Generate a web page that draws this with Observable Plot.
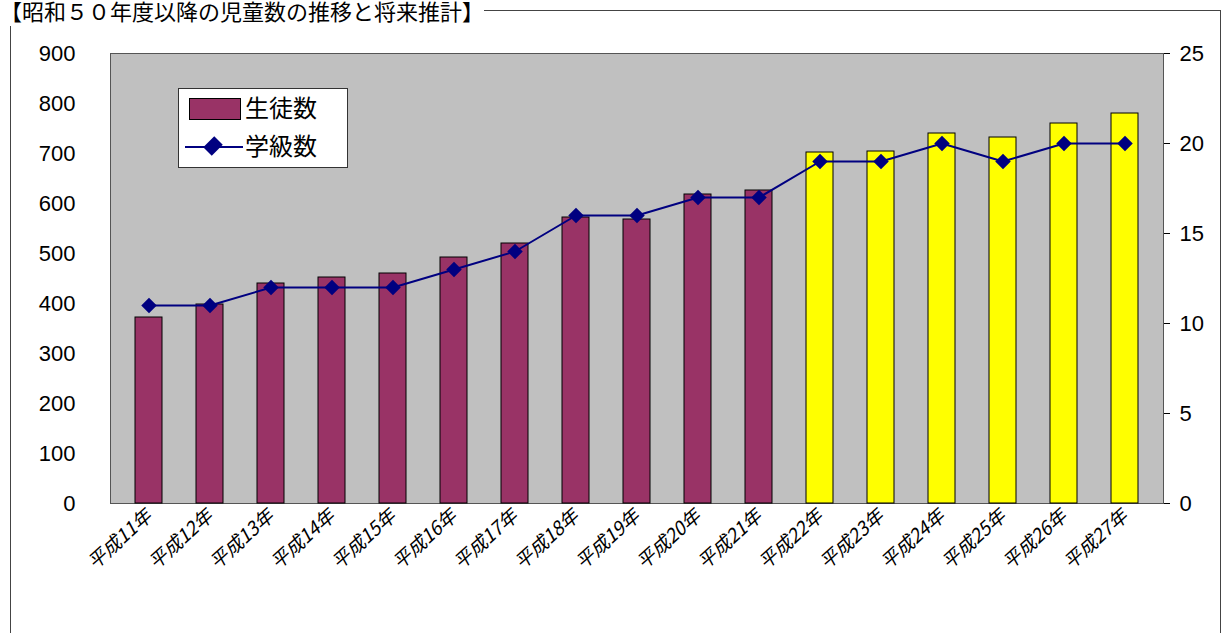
<!DOCTYPE html>
<html><head><meta charset="utf-8">
<script src="https://cdn.jsdelivr.net/npm/d3@7"></script>
<script src="https://cdn.jsdelivr.net/npm/@observablehq/plot@0.6"></script>
<style>
body{margin:0;font-family:"Noto Sans CJK JP",sans-serif;background:#fff}
#wrap{position:relative;width:1221px;height:633px;overflow:hidden}
#box{position:absolute;left:10px;top:10px;width:1209px;height:630px;border:1.5px solid #444}
#title{position:absolute;left:0;top:-6px;font-size:22px;white-space:nowrap;background:#fff}
#legend{position:absolute;left:178px;top:88px;width:168px;height:78px;background:#fff;border:1px solid #333;font-size:24px}
#chart{position:absolute;left:0;top:0}
</style></head><body>
<div id="wrap"><div id="box"></div><div id="chart"></div>
<div id="title">【昭和５０年度以降の児童数の推移と将来推計】</div>
<div id="legend">
<div style="position:absolute;left:10px;top:9px;width:50px;height:20px;background:#993366;border:1.5px solid #000"></div>
<div style="position:absolute;left:66px;top:0px">生徒数</div>
<div style="position:absolute;left:6px;top:57px;width:58px;height:2px;background:#000080"></div>
<div style="position:absolute;left:28px;top:51px;width:12px;height:12px;background:#000080;transform:rotate(45deg) scaleY(1.3)"></div>
<div style="position:absolute;left:66px;top:38px">学級数</div>
</div></div>
<script>
const years = ["平成11年","平成12年","平成13年","平成14年","平成15年","平成16年","平成17年","平成18年","平成19年","平成20年","平成21年","平成22年","平成23年","平成24年","平成25年","平成26年","平成27年"];
const students = [372,398,440,452,460,492,520,572,568,618,626,702,704,740,732,760,780];
const classes = [11,11,12,12,12,13,14,16,16,17,17,19,19,20,19,20,20];
const projected = [false,false,false,false,false,false,false,false,false,false,false,true,true,true,true,true,true];

const data = years.map((y,i)=>({year:y,s:students[i],c:classes[i]*36,p:projected[i]}));
const font = "Liberation Sans, Arial, sans-serif";

const chart = Plot.plot({
  width:1221, height:633,
  marginLeft:110, marginRight:58, marginTop:53, marginBottom:130,
  style:{fontSize:"22px", fontFamily:font, background:"transparent"},
  x:{domain:years, paddingInner:0.56, paddingOuter:0.3, label:null},
  y:{domain:[0,900], label:null},
  marks:[
    Plot.frame({fill:"#c0c0c0", stroke:"#555"}),
    Plot.axisY({ticks:d3.range(0,901,100), tickSize:0, tickPadding:35, label:null}),
    Plot.axisY({anchor:"right", ticks:d3.range(0,901,180), tickFormat:d=>d/36, tickSize:6, tickPadding:10, label:null}),
    Plot.axisX({tickSize:0, tickRotate:-42, tickPadding:10, fontStyle:"italic", fontFamily:"Noto Sans CJK JP", fontSize:19, label:null}),
    Plot.barY(data,{x:"year", y:"s", fill:d=>d.p?"#ffff00":"#993366", stroke:"#000", strokeWidth:1}),
    Plot.line(data,{x:"year", y:"c", stroke:"#000080", strokeWidth:2}),
    Plot.dot(data,{x:"year", y:"c", symbol:"diamond2", fill:"#000080", r:7})
  ]
});
d3.select("#chart").append(()=>chart);
</script></body></html>
